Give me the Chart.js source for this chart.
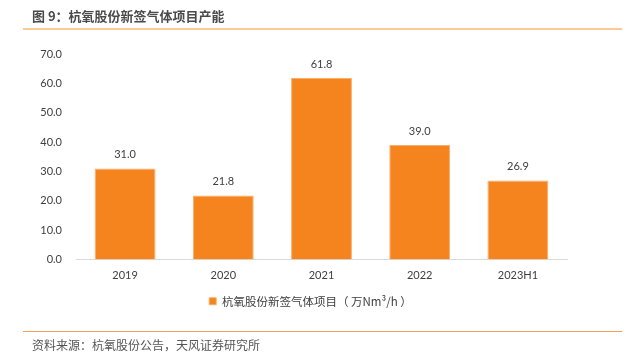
<!DOCTYPE html>
<html><head><meta charset="utf-8">
<script src="https://cdn.jsdelivr.net/npm/chart.js@4/dist/chart.umd.min.js"></script>
<style>
html,body{margin:0;padding:0;background:#fff;}
#wrap{position:relative;width:633px;height:357px;overflow:hidden;}
#c{position:absolute;left:0;top:0;}
.title{position:absolute;left:32px;top:6px;font:bold 13px "Noto Sans CJK SC",sans-serif;color:#4a4a4a;}
.line1{position:absolute;left:23px;top:28px;width:599px;height:2px;background:#fbc898;}
.line2{position:absolute;left:23px;top:331px;width:599px;height:1px;background:#f2a05a;}
.src{position:absolute;left:32px;top:336px;font:12px "Noto Sans CJK SC",sans-serif;color:#555;}
</style></head><body>
<div id="wrap">
<canvas id="c" width="633" height="357"></canvas>
<div class="title">图 9：杭氧股份新签气体项目产能</div>
<div class="line1"></div>
<div class="line2"></div>
<div class="src">资料来源：杭氧股份公告，天风证券研究所</div>
</div>
<script>
const categories = ["2019","2020","2021","2022","2023H1"];
const capacity = [31.0, 21.8, 61.8, 39.0, 26.9];
const seriesName = "杭氧股份新签气体项目（ 万Nm³/h ）";
const yTicks = [0,10,20,30,40,50,60,70];

const labelPlugin = {
  id:'vals',
  afterLayout(chart){
    const lg = chart.legend;
    if (lg) { lg.left += 22; lg.right += 22; }
  },
  afterDatasetsDraw(chart){
    const ctx = chart.ctx;
    const meta = chart.getDatasetMeta(0);
    ctx.save();
    ctx.font = '11px Lato, "Noto Sans", sans-serif';
    ctx.fillStyle = '#404040';
    ctx.textAlign = 'center';
    ctx.textBaseline = 'middle';
    meta.data.forEach((bar,i)=>{
      ctx.fillText(capacity[i].toFixed(1), bar.x, bar.y - 14);
    });
    ctx.restore();
  }
};

new Chart(document.getElementById('c'), {
  type:'bar',
  data:{labels:categories, datasets:[{label:seriesName, data:capacity,
    backgroundColor:'#f5841f', borderColor:'#f8ad6a', borderWidth:1,
    barPercentage:0.62, categoryPercentage:1}]},
  options:{
    responsive:false, animation:false,
    layout:{padding:{top:54,left:10,right:66,bottom:40}},
    plugins:{
      legend:{position:'bottom', labels:{boxWidth:7, boxHeight:7, padding:14,
        color:'#404040', font:{size:11.5, family:'"Noto Sans CJK SC", sans-serif'}}},
      tooltip:{enabled:false}
    },
    scales:{
      x:{grid:{display:false, drawTicks:false}, border:{display:true,color:'#d9d9d9',width:1},
        ticks:{color:'#404040', padding:9, font:{size:11, family:'Lato, "Noto Sans", sans-serif'}},
        afterFit(s){ s.height = 22; }},
      y:{min:0,max:70, grid:{display:false, drawTicks:false}, border:{display:false},
        afterBuildTicks(s){ s.ticks = yTicks.map(v=>({value:v})); },
        ticks:{color:'#404040', padding:14, font:{size:11, family:'Lato, "Noto Sans", sans-serif'},
          callback:v=>Number(v).toFixed(1)},
        afterFit(s){ s.width = 66; }}
    }
  },
  plugins:[labelPlugin]
});
</script>
</body></html>
